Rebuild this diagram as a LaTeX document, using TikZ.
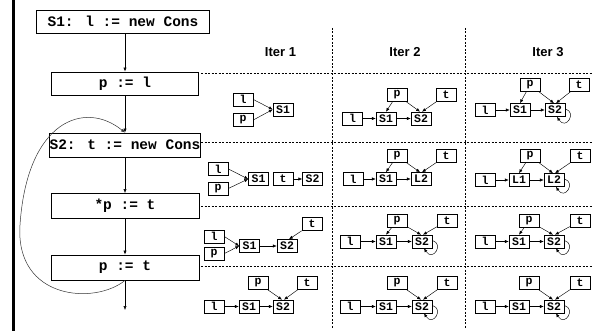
\documentclass[tikz,border=0pt]{standalone}
\usepackage{fontspec}
\newfontfamily\cour{Liberation Mono}
\newfontfamily\hel{Liberation Sans}
\usetikzlibrary{arrows.meta}
\tikzset{
  mainbox/.style={draw, line width=0.8pt, inner sep=0pt, font=\cour\bfseries\fontsize{14.5}{16}\selectfont},
  cell/.style={draw, line width=0.6pt, minimum width=20pt, minimum height=13pt, inner sep=0pt, font=\cour\bfseries\fontsize{11.5}{12}\selectfont},
  ptr/.style={-{Latex[length=3.8pt,width=3.2pt]}, line width=0.45pt},
  flow/.style={-{Latex[length=4pt,width=3.2pt]}, line width=0.5pt},
  backloop/.style={-{Latex[length=4pt,width=3.2pt]}, line width=0.5pt, draw=black!80},
  grid/.style={dash pattern=on 2pt off 1.5pt, line width=0.6pt},
  head/.style={font=\hel\bfseries\fontsize{13}{14}\selectfont}
}
\newcommand\myselfloop[1]{\draw[ptr] ([yshift=1pt]#1.east) .. controls +(12,3) and +(9,14) .. ([xshift=2pt]#1.south);}
\begin{document}
\begin{tikzpicture}[x=1pt,y=-1pt]
\useasboundingbox (0,0) rectangle (599,331);
\draw[line width=3pt] (13.5,0) -- (13.5,331);

% flow chart
\node[mainbox, minimum width=173pt, minimum height=23pt] (b1) at (123,21.5) {S1: l := new Cons};
\node[mainbox, minimum width=147pt, minimum height=23pt] (b2) at (125,83.5) {p := l};
\node[mainbox, minimum width=151pt, minimum height=24pt] (b3) at (125,145) {S2: t := new Cons};
\node[mainbox, minimum width=148pt, minimum height=25pt] (b4) at (125,206) {*p := t};
\node[mainbox, minimum width=148pt, minimum height=25pt] (b5) at (125,267.5) {p := t};
\coordinate (end) at (125,310);
\draw[flow] (b1.south -| b2.north) -- (b2.north);
\draw[flow] (b2.south) -- (b3.north);
\draw[flow] (b3.south) -- (b4.north);
\draw[flow] (b4.south) -- (b5.north);
\draw[flow] (b5.south) -- (end);
\draw[backloop] (b5.south) .. controls (95,305) and (15,300) .. (20,225) .. controls (27,120) and (85,100) .. (b3.north);

% grid
\foreach \yy in {73,142,206,266} \draw[grid] (201,\yy) -- (593,\yy);
\draw[grid] (332,28) -- (332,328);
\draw[grid] (465,28) -- (465,328);

% headers
\node[head] (h1) at (280.5,52.5) {Iter 1};
\node[head] (h2) at (405,52.5) {Iter 2};
\node[head] (h3) at (548,52.5) {Iter 3};

% row 1, iter 1
\node[cell] (c11l) at (243,99.5) {l};
\node[cell] (c11p) at (243,120) {p};
\node[cell] (c11s1) at (283,109.5) {S1};
\draw[ptr] (c11l.east) -- (c11s1.west);
\draw[ptr] (c11p.east) -- (c11s1.west);

% row 1, iter 2
\node[cell] (c12l) at (352.5,118.5) {l};
\node[cell] (c12s1) at (386,118.5) {S1};
\node[cell] (c12s2) at (421,118.5) {S2};
\node[cell] (c12p) at (397,95) {p};
\node[cell] (c12t) at (446,95) {t};
\draw[ptr] (c12l) -- (c12s1);
\draw[ptr] (c12s1) -- (c12s2);
\draw[ptr] (c12p) -- (c12s1.north);
\draw[ptr] (c12p) -- ([xshift=-1pt]c12s2.north);
\draw[ptr] (c12t) -- ([xshift=1pt]c12s2.north);

% row 1, iter 3
\node[cell] (c13l) at (485,110) {l};
\node[cell] (c13s1) at (520,110) {S1};
\node[cell] (c13s2) at (555,110) {S2};
\node[cell] (c13p) at (530,85) {p};
\node[cell] (c13t) at (579,85) {t};
\draw[ptr] (c13l) -- (c13s1);
\draw[ptr] (c13s1) -- (c13s2);
\draw[ptr] (c13p) -- (c13s1.north);
\draw[ptr] (c13p) -- ([xshift=-1pt]c13s2.north);
\draw[ptr] (c13t) -- ([xshift=1pt]c13s2.north);
\myselfloop{c13s2}

% row 2, iter 1
\node[cell] (c21l) at (218,169) {l};
\node[cell] (c21p) at (218,188.5) {p};
\node[cell] (c21s1) at (258.5,179) {S1};
\node[cell] (c21t) at (283,179) {t};
\node[cell] (c21s2) at (312.5,179) {S2};
\draw[ptr] (c21l.east) -- (c21s1.west);
\draw[ptr] (c21p.east) -- (c21s1.west);
\draw[ptr] (c21t) -- (c21s2);

% row 2, iter 2
\node[cell] (c22l) at (353,179) {l};
\node[cell] (c22s1) at (386,179) {S1};
\node[cell] (c22l2) at (421,179) {L2};
\node[cell] (c22p) at (397,156) {p};
\node[cell] (c22t) at (446,156) {t};
\draw[ptr] (c22l) -- (c22s1);
\draw[ptr] (c22s1) -- (c22l2);
\draw[ptr] (c22p) -- (c22s1.north);
\draw[ptr] (c22p) -- ([xshift=-1pt]c22l2.north);
\draw[ptr] (c22t) -- ([xshift=1pt]c22l2.north);

% row 2, iter 3
\node[cell] (c23l) at (485,180) {l};
\node[cell] (c23l1) at (519,180) {L1};
\node[cell] (c23l2) at (554,180) {L2};
\node[cell] (c23p) at (530,156) {p};
\node[cell] (c23t) at (580,156) {t};
\draw[ptr] (c23l) -- (c23l1);
\draw[ptr] (c23l1) -- (c23l2);
\draw[ptr] (c23p) -- (c23l1.north);
\draw[ptr] (c23p) -- ([xshift=-1pt]c23l2.north);
\draw[ptr] (c23t) -- ([xshift=1pt]c23l2.north);
\myselfloop{c23l2}

% row 3, iter 1
\node[cell] (c31l) at (214,236.5) {l};
\node[cell] (c31p) at (214,253.5) {p};
\node[cell] (c31s1) at (249.5,246) {S1};
\node[cell] (c31s2) at (287,246) {S2};
\node[cell] (c31t) at (312,224) {t};
\draw[ptr] (c31l.east) -- (c31s1.west);
\draw[ptr] (c31p.east) -- (c31s1.west);
\draw[ptr] (c31s1) -- (c31s2);
\draw[ptr] (c31t) -- ([xshift=2pt]c31s2.north);

% row 3, iter 2
\node[cell] (c32p) at (397,221) {p};
\node[cell] (c32t) at (447,221) {t};
\node[cell] (c32l) at (350,241.5) {l};
\node[cell] (c32s1) at (386,241.5) {S1};
\node[cell] (c32s2) at (422,241.5) {S2};
\draw[ptr] (c32l) -- (c32s1);
\draw[ptr] (c32s1) -- (c32s2);
\draw[ptr] (c32p) -- (c32s1.north);
\draw[ptr] (c32p) -- ([xshift=-1pt]c32s2.north);
\draw[ptr] (c32t) -- ([xshift=1pt]c32s2.north);
\myselfloop{c32s2}

% row 3, iter 3
\node[cell] (c33p) at (529,221) {p};
\node[cell] (c33t) at (580,221) {t};
\node[cell] (c33l) at (485,241.5) {l};
\node[cell] (c33s1) at (519,241.5) {S1};
\node[cell] (c33s2) at (554,241.5) {S2};
\draw[ptr] (c33l) -- (c33s1);
\draw[ptr] (c33s1) -- (c33s2);
\draw[ptr] (c33p) -- (c33s1.north);
\draw[ptr] (c33p) -- ([xshift=-1pt]c33s2.north);
\draw[ptr] (c33t) -- ([xshift=1pt]c33s2.north);
\myselfloop{c33s2}

% row 4, iter 1
\node[cell] (c41p) at (258,283) {p};
\node[cell] (c41t) at (307,283) {t};
\node[cell] (c41l) at (214,306.5) {l};
\node[cell] (c41s1) at (249,306.5) {S1};
\node[cell] (c41s2) at (283,306.5) {S2};
\draw[ptr] (c41l) -- (c41s1);
\draw[ptr] (c41s1) -- (c41s2);
\draw[ptr] (c41p) -- ([xshift=-1pt]c41s2.north);
\draw[ptr] (c41t) -- ([xshift=1pt]c41s2.north);

% row 4, iter 2
\node[cell] (c42p) at (397,283) {p};
\node[cell] (c42t) at (447,283) {t};
\node[cell] (c42l) at (350,306.5) {l};
\node[cell] (c42s1) at (386,306.5) {S1};
\node[cell] (c42s2) at (422,306.5) {S2};
\draw[ptr] (c42l) -- (c42s1);
\draw[ptr] (c42s1) -- (c42s2);
\draw[ptr] (c42p) -- ([xshift=-1pt]c42s2.north);
\draw[ptr] (c42t) -- ([xshift=1pt]c42s2.north);
\myselfloop{c42s2}

% row 4, iter 3
\node[cell] (c43p) at (529,283) {p};
\node[cell] (c43t) at (580,283) {t};
\node[cell] (c43l) at (485,306.5) {l};
\node[cell] (c43s1) at (519,306.5) {S1};
\node[cell] (c43s2) at (554,306.5) {S2};
\draw[ptr] (c43l) -- (c43s1);
\draw[ptr] (c43s1) -- (c43s2);
\draw[ptr] (c43p) -- ([xshift=-1pt]c43s2.north);
\draw[ptr] (c43t) -- ([xshift=1pt]c43s2.north);
\myselfloop{c43s2}
\end{tikzpicture}
\end{document}
